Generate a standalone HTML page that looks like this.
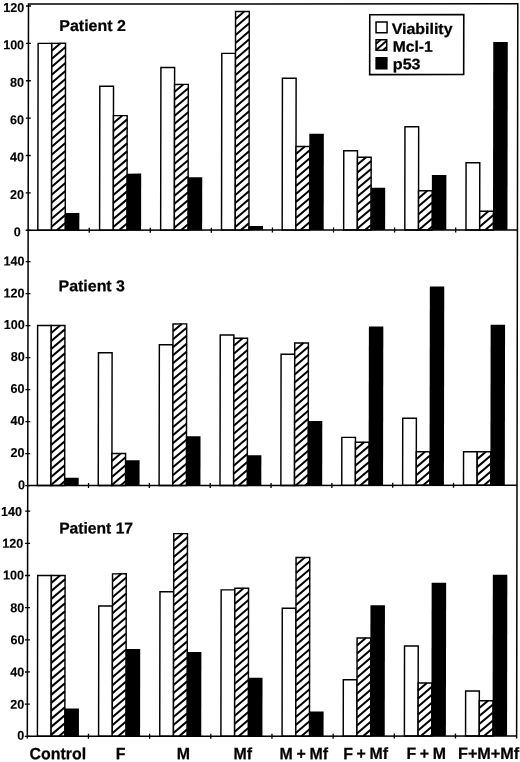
<!DOCTYPE html>
<html lang="en"><head><meta charset="utf-8"><title>Figure</title>
<style>html,body{margin:0;padding:0;background:#fff}svg{display:block}text{font-family:"Liberation Sans",sans-serif;font-weight:bold;fill:#000}</style>
</head><body>
<svg width="520" height="762" viewBox="0 0 520 762">
<rect width="520" height="762" fill="#fff"/>
<g transform="matrix(1,-0.0005,-0.0016,1,0.0,0.0)">
<rect x="38.20" y="43.38" width="13.70" height="186.87" fill="#fff" stroke="#000" stroke-width="1.45"/>
<rect x="51.90" y="43.38" width="13.70" height="186.87" fill="#fff" stroke="#000" stroke-width="1.45"/>
<path d="M51.90 50.78L60.61 43.38M51.90 58.78L65.60 47.13M51.90 66.78L65.60 55.13M51.90 74.78L65.60 63.13M51.90 82.78L65.60 71.14M51.90 90.78L65.60 79.14M51.90 98.78L65.60 87.14M51.90 106.78L65.60 95.14M51.90 114.78L65.60 103.14M51.90 122.78L65.60 111.14M51.90 130.78L65.60 119.14M51.90 138.78L65.60 127.14M51.90 146.78L65.60 135.13M51.90 154.78L65.60 143.13M51.90 162.78L65.60 151.13M51.90 170.78L65.60 159.13M51.90 178.78L65.60 167.13M51.90 186.78L65.60 175.13M51.90 194.78L65.60 183.13M51.90 202.78L65.60 191.13M51.90 210.78L65.60 199.13M51.90 218.78L65.60 207.13M51.90 226.78L65.60 215.13M57.23 230.25L65.60 223.13" stroke="#000" stroke-width="2.0" fill="none"/>
<rect x="65.20" y="212.93" width="14.50" height="17.32" fill="#000"/>
<rect x="99.96" y="86.36" width="13.70" height="143.89" fill="#fff" stroke="#000" stroke-width="1.45"/>
<rect x="113.66" y="115.70" width="13.70" height="114.55" fill="#fff" stroke="#000" stroke-width="1.45"/>
<path d="M113.66 123.10L122.37 115.70M113.66 131.10L127.36 119.45M113.66 139.10L127.36 127.45M113.66 147.10L127.36 135.45M113.66 155.10L127.36 143.45M113.66 163.10L127.36 151.45M113.66 171.10L127.36 159.45M113.66 179.10L127.36 167.45M113.66 187.10L127.36 175.45M113.66 195.10L127.36 183.45M113.66 203.10L127.36 191.45M113.66 211.10L127.36 199.45M113.66 219.10L127.36 207.45M113.66 227.10L127.36 215.45M119.37 230.25L127.36 223.45" stroke="#000" stroke-width="2.0" fill="none"/>
<rect x="126.96" y="173.69" width="14.50" height="56.56" fill="#000"/>
<rect x="161.02" y="67.67" width="13.70" height="162.58" fill="#fff" stroke="#000" stroke-width="1.45"/>
<rect x="174.72" y="84.49" width="13.70" height="145.76" fill="#fff" stroke="#000" stroke-width="1.45"/>
<path d="M174.72 91.89L183.43 84.49M174.72 99.89L188.42 88.25M174.72 107.89L188.42 96.25M174.72 115.89L188.42 104.25M174.72 123.89L188.42 112.25M174.72 131.89L188.42 120.25M174.72 139.89L188.42 128.25M174.72 147.89L188.42 136.25M174.72 155.89L188.42 144.25M174.72 163.89L188.42 152.25M174.72 171.89L188.42 160.25M174.72 179.89L188.42 168.25M174.72 187.89L188.42 176.25M174.72 195.89L188.42 184.25M174.72 203.89L188.42 192.25M174.72 211.89L188.42 200.25M174.72 219.89L188.42 208.25M174.72 227.89L188.42 216.25M181.36 230.25L188.42 224.25" stroke="#000" stroke-width="2.0" fill="none"/>
<rect x="188.02" y="177.43" width="14.50" height="52.82" fill="#000"/>
<rect x="221.89" y="53.47" width="13.70" height="176.78" fill="#fff" stroke="#000" stroke-width="1.45"/>
<rect x="235.59" y="11.61" width="13.70" height="218.64" fill="#fff" stroke="#000" stroke-width="1.45"/>
<path d="M235.59 19.01L244.29 11.61M235.59 27.01L249.29 15.37M235.59 35.01L249.29 23.37M235.59 43.01L249.29 31.37M235.59 51.01L249.29 39.37M235.59 59.01L249.29 47.37M235.59 67.01L249.29 55.37M235.59 75.01L249.29 63.37M235.59 83.01L249.29 71.37M235.59 91.01L249.29 79.37M235.59 99.01L249.29 87.37M235.59 107.01L249.29 95.37M235.59 115.01L249.29 103.37M235.59 123.01L249.29 111.37M235.59 131.01L249.29 119.37M235.59 139.01L249.29 127.37M235.59 147.01L249.29 135.37M235.59 155.01L249.29 143.37M235.59 163.01L249.29 151.37M235.59 171.01L249.29 159.37M235.59 179.01L249.29 167.37M235.59 187.01L249.29 175.37M235.59 195.01L249.29 183.37M235.59 203.01L249.29 191.37M235.59 211.01L249.29 199.37M235.59 219.01L249.29 207.37M235.59 227.01L249.29 215.37M241.19 230.25L249.29 223.37" stroke="#000" stroke-width="2.0" fill="none"/>
<rect x="248.89" y="226.01" width="14.50" height="4.24" fill="#000"/>
<rect x="282.55" y="78.32" width="13.70" height="151.93" fill="#fff" stroke="#000" stroke-width="1.45"/>
<rect x="296.25" y="146.72" width="13.70" height="83.53" fill="#fff" stroke="#000" stroke-width="1.45"/>
<path d="M296.25 154.12L304.96 146.72M296.25 162.12L309.95 150.47M296.25 170.12L309.95 158.47M296.25 178.12L309.95 166.47M296.25 186.12L309.95 174.47M296.25 194.12L309.95 182.47M296.25 202.12L309.95 190.47M296.25 210.12L309.95 198.47M296.25 218.12L309.95 206.47M296.25 226.12L309.95 214.47M300.80 230.25L309.95 222.47" stroke="#000" stroke-width="2.0" fill="none"/>
<rect x="309.55" y="133.89" width="14.50" height="96.36" fill="#000"/>
<rect x="344.01" y="150.83" width="13.70" height="79.42" fill="#fff" stroke="#000" stroke-width="1.45"/>
<rect x="357.71" y="157.37" width="13.70" height="72.88" fill="#fff" stroke="#000" stroke-width="1.45"/>
<path d="M357.71 164.77L366.42 157.37M357.71 172.77L371.41 161.13M357.71 180.77L371.41 169.13M357.71 188.77L371.41 177.13M357.71 196.77L371.41 185.13M357.71 204.77L371.41 193.13M357.71 212.77L371.41 201.13M357.71 220.77L371.41 209.13M357.71 228.77L371.41 217.13M365.38 230.25L371.41 225.13" stroke="#000" stroke-width="2.0" fill="none"/>
<rect x="371.01" y="187.89" width="14.50" height="42.36" fill="#000"/>
<rect x="405.17" y="126.91" width="13.70" height="103.34" fill="#fff" stroke="#000" stroke-width="1.45"/>
<rect x="418.87" y="191.01" width="13.70" height="39.24" fill="#fff" stroke="#000" stroke-width="1.45"/>
<path d="M418.87 198.41L427.58 191.01M418.87 206.41L432.57 194.76M418.87 214.41L432.57 202.76M418.87 222.41L432.57 210.76M419.06 230.25L432.57 218.76M428.47 230.25L432.57 226.76" stroke="#000" stroke-width="2.0" fill="none"/>
<rect x="432.17" y="175.18" width="14.50" height="55.07" fill="#000"/>
<rect x="466.34" y="162.98" width="13.70" height="67.27" fill="#fff" stroke="#000" stroke-width="1.45"/>
<rect x="480.04" y="211.56" width="13.70" height="18.69" fill="#fff" stroke="#000" stroke-width="1.45"/>
<path d="M480.04 218.96L488.74 211.56M480.04 226.96L493.74 215.32M485.58 230.25L493.74 223.32" stroke="#000" stroke-width="2.0" fill="none"/>
<rect x="493.34" y="42.32" width="14.50" height="187.93" fill="#000"/>
<path d="M28.5 230.25H517.8" stroke="#000" stroke-width="1.5" fill="none"/>
<path d="M26.0 230.25H31.0" stroke="#000" stroke-width="1.3"/>
<text transform="translate(21.00,236.25) scale(0.975,1)" font-size="12.9" text-anchor="end" stroke="#000" stroke-width="0.12">0</text>
<path d="M26.0 192.88H31.0" stroke="#000" stroke-width="1.3"/>
<text transform="translate(24.20,198.98) scale(0.975,1)" font-size="12.9" text-anchor="end" stroke="#000" stroke-width="0.12">20</text>
<path d="M26.0 155.50H31.0" stroke="#000" stroke-width="1.3"/>
<text transform="translate(24.20,161.60) scale(0.975,1)" font-size="12.9" text-anchor="end" stroke="#000" stroke-width="0.12">40</text>
<path d="M26.0 118.13H31.0" stroke="#000" stroke-width="1.3"/>
<text transform="translate(24.20,124.23) scale(0.975,1)" font-size="12.9" text-anchor="end" stroke="#000" stroke-width="0.12">60</text>
<path d="M26.0 80.75H31.0" stroke="#000" stroke-width="1.3"/>
<text transform="translate(24.20,86.85) scale(0.975,1)" font-size="12.9" text-anchor="end" stroke="#000" stroke-width="0.12">80</text>
<path d="M26.0 43.38H31.0" stroke="#000" stroke-width="1.3"/>
<text transform="translate(24.20,49.28) scale(0.975,1)" font-size="12.9" text-anchor="end" stroke="#000" stroke-width="0.12">100</text>
<path d="M26.0 6.01H31.0" stroke="#000" stroke-width="1.3"/>
<text transform="translate(24.20,12.01) scale(0.975,1)" font-size="12.9" text-anchor="end" stroke="#000" stroke-width="0.12">120</text>
<path d="M89.58 227.75V232.75" stroke="#000" stroke-width="1.3"/>
<path d="M150.65 227.75V232.75" stroke="#000" stroke-width="1.3"/>
<path d="M211.73 227.75V232.75" stroke="#000" stroke-width="1.3"/>
<path d="M272.81 227.75V232.75" stroke="#000" stroke-width="1.3"/>
<path d="M333.88 227.75V232.75" stroke="#000" stroke-width="1.3"/>
<path d="M394.96 227.75V232.75" stroke="#000" stroke-width="1.3"/>
<path d="M456.04 227.75V232.75" stroke="#000" stroke-width="1.3"/>
<text transform="translate(59.40,31.00) scale(1.01,1)" font-size="15.8" text-anchor="start" stroke="#000" stroke-width="0.25">Patient 2</text>
<rect x="38.15" y="325.59" width="13.64" height="159.96" fill="#fff" stroke="#000" stroke-width="1.45"/>
<rect x="51.79" y="325.59" width="13.64" height="159.96" fill="#fff" stroke="#000" stroke-width="1.45"/>
<path d="M51.79 332.99L60.50 325.59M51.79 340.99L65.43 329.40M51.79 348.99L65.43 337.40M51.79 356.99L65.43 345.40M51.79 364.99L65.43 353.40M51.79 372.99L65.43 361.40M51.79 380.99L65.43 369.40M51.79 388.99L65.43 377.40M51.79 396.99L65.43 385.40M51.79 404.99L65.43 393.40M51.79 412.99L65.43 401.40M51.79 420.99L65.43 409.40M51.79 428.99L65.43 417.40M51.79 436.99L65.43 425.40M51.79 444.99L65.43 433.40M51.79 452.99L65.43 441.40M51.79 460.99L65.43 449.40M51.79 468.99L65.43 457.40M51.79 476.99L65.43 465.40M51.79 484.99L65.43 473.40M60.54 485.55L65.43 481.40" stroke="#000" stroke-width="2.0" fill="none"/>
<rect x="65.03" y="477.85" width="14.44" height="7.70" fill="#000"/>
<rect x="99.03" y="352.78" width="13.64" height="132.77" fill="#fff" stroke="#000" stroke-width="1.45"/>
<rect x="112.67" y="453.56" width="13.64" height="31.99" fill="#fff" stroke="#000" stroke-width="1.45"/>
<path d="M112.67 460.96L121.37 453.56M112.67 468.96L126.30 457.37M112.67 476.96L126.30 465.37M112.67 484.96L126.30 473.37M121.38 485.55L126.30 481.37" stroke="#000" stroke-width="2.0" fill="none"/>
<rect x="125.90" y="460.26" width="14.44" height="25.29" fill="#000"/>
<rect x="159.90" y="344.78" width="13.64" height="140.77" fill="#fff" stroke="#000" stroke-width="1.45"/>
<rect x="173.54" y="323.99" width="13.64" height="161.56" fill="#fff" stroke="#000" stroke-width="1.45"/>
<path d="M173.54 331.39L182.25 323.99M173.54 339.39L187.18 327.80M173.54 347.39L187.18 335.80M173.54 355.39L187.18 343.80M173.54 363.39L187.18 351.80M173.54 371.39L187.18 359.80M173.54 379.39L187.18 367.80M173.54 387.39L187.18 375.80M173.54 395.39L187.18 383.80M173.54 403.39L187.18 391.80M173.54 411.39L187.18 399.80M173.54 419.39L187.18 407.80M173.54 427.39L187.18 415.80M173.54 435.39L187.18 423.80M173.54 443.39L187.18 431.80M173.54 451.39L187.18 439.80M173.54 459.39L187.18 447.80M173.54 467.39L187.18 455.80M173.54 475.39L187.18 463.80M173.54 483.39L187.18 471.80M180.41 485.55L187.18 479.80" stroke="#000" stroke-width="2.0" fill="none"/>
<rect x="186.78" y="436.26" width="14.44" height="49.29" fill="#000"/>
<rect x="220.78" y="335.18" width="13.64" height="150.37" fill="#fff" stroke="#000" stroke-width="1.45"/>
<rect x="234.42" y="338.38" width="13.64" height="147.17" fill="#fff" stroke="#000" stroke-width="1.45"/>
<path d="M234.42 345.78L243.12 338.38M234.42 353.78L248.05 342.19M234.42 361.78L248.05 350.19M234.42 369.78L248.05 358.19M234.42 377.78L248.05 366.19M234.42 385.78L248.05 374.19M234.42 393.78L248.05 382.19M234.42 401.78L248.05 390.19M234.42 409.78L248.05 398.19M234.42 417.78L248.05 406.19M234.42 425.78L248.05 414.19M234.42 433.78L248.05 422.19M234.42 441.78L248.05 430.19M234.42 449.78L248.05 438.19M234.42 457.78L248.05 446.19M234.42 465.78L248.05 454.19M234.42 473.78L248.05 462.19M234.42 481.78L248.05 470.19M239.39 485.55L248.05 478.19" stroke="#000" stroke-width="2.0" fill="none"/>
<rect x="247.65" y="455.30" width="14.44" height="30.25" fill="#000"/>
<rect x="281.65" y="354.38" width="13.64" height="131.17" fill="#fff" stroke="#000" stroke-width="1.45"/>
<rect x="295.29" y="343.18" width="13.64" height="142.37" fill="#fff" stroke="#000" stroke-width="1.45"/>
<path d="M295.29 350.58L304.00 343.18M295.29 358.58L308.93 346.99M295.29 366.58L308.93 354.99M295.29 374.58L308.93 362.99M295.29 382.58L308.93 370.99M295.29 390.58L308.93 378.99M295.29 398.58L308.93 386.99M295.29 406.58L308.93 394.99M295.29 414.58L308.93 402.99M295.29 422.58L308.93 410.99M295.29 430.58L308.93 418.99M295.29 438.58L308.93 426.99M295.29 446.58L308.93 434.99M295.29 454.58L308.93 442.99M295.29 462.58L308.93 450.99M295.29 470.58L308.93 458.99M295.29 478.58L308.93 466.99M296.50 485.55L308.93 474.99M305.92 485.55L308.93 482.99" stroke="#000" stroke-width="2.0" fill="none"/>
<rect x="308.53" y="421.06" width="14.44" height="64.49" fill="#000"/>
<rect x="342.53" y="437.56" width="13.64" height="47.99" fill="#fff" stroke="#000" stroke-width="1.45"/>
<rect x="356.17" y="442.36" width="13.64" height="43.19" fill="#fff" stroke="#000" stroke-width="1.45"/>
<path d="M356.17 449.76L364.87 442.36M356.17 457.76L369.80 446.17M356.17 465.76L369.80 454.17M356.17 473.76L369.80 462.17M356.17 481.76L369.80 470.17M361.12 485.55L369.80 478.17" stroke="#000" stroke-width="2.0" fill="none"/>
<rect x="369.40" y="326.69" width="14.44" height="158.86" fill="#000"/>
<rect x="403.40" y="418.37" width="13.64" height="67.19" fill="#fff" stroke="#000" stroke-width="1.45"/>
<rect x="417.04" y="451.96" width="13.64" height="33.59" fill="#fff" stroke="#000" stroke-width="1.45"/>
<path d="M417.04 459.36L425.75 451.96M417.04 467.36L430.68 455.77M417.04 475.36L430.68 463.77M417.04 483.36L430.68 471.77M423.87 485.55L430.68 479.77" stroke="#000" stroke-width="2.0" fill="none"/>
<rect x="430.28" y="286.69" width="14.44" height="198.86" fill="#000"/>
<rect x="464.28" y="451.96" width="13.64" height="33.59" fill="#fff" stroke="#000" stroke-width="1.45"/>
<rect x="477.92" y="451.96" width="13.64" height="33.59" fill="#fff" stroke="#000" stroke-width="1.45"/>
<path d="M477.92 459.36L486.62 451.96M477.92 467.36L491.55 455.77M477.92 475.36L491.55 463.77M477.92 483.36L491.55 471.77M484.75 485.55L491.55 479.77" stroke="#000" stroke-width="2.0" fill="none"/>
<rect x="491.15" y="325.09" width="14.44" height="160.46" fill="#000"/>
<path d="M28.5 485.55H517.8" stroke="#000" stroke-width="1.5" fill="none"/>
<path d="M26.0 485.55H31.0" stroke="#000" stroke-width="1.3"/>
<text transform="translate(25.70,489.25) scale(0.975,1)" font-size="12.9" text-anchor="end" stroke="#000" stroke-width="0.12">0</text>
<path d="M26.0 453.56H31.0" stroke="#000" stroke-width="1.3"/>
<text transform="translate(25.20,456.96) scale(0.975,1)" font-size="12.9" text-anchor="end" stroke="#000" stroke-width="0.12">20</text>
<path d="M26.0 421.56H31.0" stroke="#000" stroke-width="1.3"/>
<text transform="translate(25.20,424.96) scale(0.975,1)" font-size="12.9" text-anchor="end" stroke="#000" stroke-width="0.12">40</text>
<path d="M26.0 389.57H31.0" stroke="#000" stroke-width="1.3"/>
<text transform="translate(25.20,392.97) scale(0.975,1)" font-size="12.9" text-anchor="end" stroke="#000" stroke-width="0.12">60</text>
<path d="M26.0 357.58H31.0" stroke="#000" stroke-width="1.3"/>
<text transform="translate(25.20,360.98) scale(0.975,1)" font-size="12.9" text-anchor="end" stroke="#000" stroke-width="0.12">80</text>
<path d="M26.0 325.59H31.0" stroke="#000" stroke-width="1.3"/>
<text transform="translate(25.20,328.99) scale(0.975,1)" font-size="12.9" text-anchor="end" stroke="#000" stroke-width="0.12">100</text>
<path d="M26.0 293.59H31.0" stroke="#000" stroke-width="1.3"/>
<text transform="translate(25.00,297.39) scale(0.975,1)" font-size="12.9" text-anchor="end" stroke="#000" stroke-width="0.12">120</text>
<path d="M26.0 261.60H31.0" stroke="#000" stroke-width="1.3"/>
<text transform="translate(25.00,265.40) scale(0.975,1)" font-size="12.9" text-anchor="end" stroke="#000" stroke-width="0.12">140</text>
<path d="M89.33 483.05V488.05" stroke="#000" stroke-width="1.3"/>
<path d="M150.16 483.05V488.05" stroke="#000" stroke-width="1.3"/>
<path d="M211.00 483.05V488.05" stroke="#000" stroke-width="1.3"/>
<path d="M271.83 483.05V488.05" stroke="#000" stroke-width="1.3"/>
<path d="M332.66 483.05V488.05" stroke="#000" stroke-width="1.3"/>
<path d="M393.49 483.05V488.05" stroke="#000" stroke-width="1.3"/>
<path d="M454.33 483.05V488.05" stroke="#000" stroke-width="1.3"/>
<text transform="translate(59.00,291.20) scale(1.01,1)" font-size="15.8" text-anchor="start" stroke="#000" stroke-width="0.25">Patient 3</text>
<rect x="38.60" y="575.51" width="13.70" height="160.79" fill="#fff" stroke="#000" stroke-width="1.45"/>
<rect x="52.30" y="575.51" width="13.70" height="160.79" fill="#fff" stroke="#000" stroke-width="1.45"/>
<path d="M52.30 582.91L61.01 575.51M52.30 590.91L66.00 579.27M52.30 598.91L66.00 587.27M52.30 606.91L66.00 595.27M52.30 614.91L66.00 603.27M52.30 622.91L66.00 611.27M52.30 630.91L66.00 619.27M52.30 638.91L66.00 627.27M52.30 646.91L66.00 635.27M52.30 654.91L66.00 643.27M52.30 662.91L66.00 651.27M52.30 670.91L66.00 659.27M52.30 678.91L66.00 667.27M52.30 686.91L66.00 675.27M52.30 694.91L66.00 683.27M52.30 702.91L66.00 691.27M52.30 710.91L66.00 699.27M52.30 718.91L66.00 707.27M52.30 726.91L66.00 715.27M52.30 734.91L66.00 723.27M60.08 736.30L66.00 731.27" stroke="#000" stroke-width="2.0" fill="none"/>
<rect x="65.60" y="708.47" width="14.50" height="27.83" fill="#000"/>
<rect x="99.76" y="606.06" width="13.70" height="130.24" fill="#fff" stroke="#000" stroke-width="1.45"/>
<rect x="113.46" y="573.91" width="13.70" height="162.39" fill="#fff" stroke="#000" stroke-width="1.45"/>
<path d="M113.46 581.31L122.17 573.91M113.46 589.31L127.16 577.66M113.46 597.31L127.16 585.66M113.46 605.31L127.16 593.66M113.46 613.31L127.16 601.66M113.46 621.31L127.16 609.66M113.46 629.31L127.16 617.66M113.46 637.31L127.16 625.66M113.46 645.31L127.16 633.66M113.46 653.31L127.16 641.66M113.46 661.31L127.16 649.66M113.46 669.31L127.16 657.66M113.46 677.31L127.16 665.66M113.46 685.31L127.16 673.66M113.46 693.31L127.16 681.66M113.46 701.31L127.16 689.66M113.46 709.31L127.16 697.66M113.46 717.31L127.16 705.66M113.46 725.31L127.16 713.66M113.46 733.31L127.16 721.66M119.35 736.30L127.16 729.66" stroke="#000" stroke-width="2.0" fill="none"/>
<rect x="126.76" y="648.98" width="14.50" height="87.32" fill="#000"/>
<rect x="160.92" y="591.75" width="13.70" height="144.55" fill="#fff" stroke="#000" stroke-width="1.45"/>
<rect x="174.62" y="533.71" width="13.70" height="202.59" fill="#fff" stroke="#000" stroke-width="1.45"/>
<path d="M174.62 541.11L183.33 533.71M174.62 549.11L188.32 537.47M174.62 557.11L188.32 545.47M174.62 565.11L188.32 553.47M174.62 573.11L188.32 561.47M174.62 581.11L188.32 569.47M174.62 589.11L188.32 577.47M174.62 597.11L188.32 585.47M174.62 605.11L188.32 593.47M174.62 613.11L188.32 601.47M174.62 621.11L188.32 609.47M174.62 629.11L188.32 617.47M174.62 637.11L188.32 625.47M174.62 645.11L188.32 633.47M174.62 653.11L188.32 641.47M174.62 661.11L188.32 649.47M174.62 669.11L188.32 657.47M174.62 677.11L188.32 665.47M174.62 685.11L188.32 673.47M174.62 693.11L188.32 681.47M174.62 701.11L188.32 689.47M174.62 709.11L188.32 697.47M174.62 717.11L188.32 705.47M174.62 725.11L188.32 713.47M174.62 733.11L188.32 721.47M180.28 736.30L188.32 729.47" stroke="#000" stroke-width="2.0" fill="none"/>
<rect x="187.92" y="652.19" width="14.50" height="84.11" fill="#000"/>
<rect x="222.09" y="589.99" width="13.70" height="146.31" fill="#fff" stroke="#000" stroke-width="1.45"/>
<rect x="235.79" y="588.38" width="13.70" height="147.92" fill="#fff" stroke="#000" stroke-width="1.45"/>
<path d="M235.79 595.78L244.49 588.38M235.79 603.78L249.49 592.13M235.79 611.78L249.49 600.13M235.79 619.78L249.49 608.13M235.79 627.78L249.49 616.13M235.79 635.78L249.49 624.13M235.79 643.78L249.49 632.13M235.79 651.78L249.49 640.13M235.79 659.78L249.49 648.13M235.79 667.78L249.49 656.13M235.79 675.78L249.49 664.13M235.79 683.78L249.49 672.13M235.79 691.78L249.49 680.13M235.79 699.78L249.49 688.13M235.79 707.78L249.49 696.13M235.79 715.78L249.49 704.13M235.79 723.78L249.49 712.13M235.79 731.78L249.49 720.13M239.88 736.30L249.49 728.13M249.29 736.30L249.49 736.13" stroke="#000" stroke-width="2.0" fill="none"/>
<rect x="249.09" y="677.92" width="14.50" height="58.38" fill="#000"/>
<rect x="283.25" y="608.48" width="13.70" height="127.82" fill="#fff" stroke="#000" stroke-width="1.45"/>
<rect x="296.95" y="557.67" width="13.70" height="178.63" fill="#fff" stroke="#000" stroke-width="1.45"/>
<path d="M296.95 565.07L305.66 557.67M296.95 573.07L310.65 561.42M296.95 581.07L310.65 569.42M296.95 589.07L310.65 577.42M296.95 597.07L310.65 585.42M296.95 605.07L310.65 593.42M296.95 613.07L310.65 601.42M296.95 621.07L310.65 609.42M296.95 629.07L310.65 617.42M296.95 637.07L310.65 625.42M296.95 645.07L310.65 633.42M296.95 653.07L310.65 641.42M296.95 661.07L310.65 649.42M296.95 669.07L310.65 657.42M296.95 677.07L310.65 665.42M296.95 685.07L310.65 673.42M296.95 693.07L310.65 681.42M296.95 701.07L310.65 689.42M296.95 709.07L310.65 697.42M296.95 717.07L310.65 705.42M296.95 725.07L310.65 713.42M296.95 733.07L310.65 721.42M302.56 736.30L310.65 729.42" stroke="#000" stroke-width="2.0" fill="none"/>
<rect x="310.25" y="711.68" width="14.50" height="24.62" fill="#000"/>
<rect x="344.41" y="680.02" width="13.70" height="56.27" fill="#fff" stroke="#000" stroke-width="1.45"/>
<rect x="358.11" y="638.22" width="13.70" height="98.08" fill="#fff" stroke="#000" stroke-width="1.45"/>
<path d="M358.11 645.62L366.82 638.22M358.11 653.62L371.81 641.98M358.11 661.62L371.81 649.98M358.11 669.62L371.81 657.98M358.11 677.62L371.81 665.98M358.11 685.62L371.81 673.98M358.11 693.62L371.81 681.98M358.11 701.62L371.81 689.98M358.11 709.62L371.81 697.98M358.11 717.62L371.81 705.98M358.11 725.62L371.81 713.98M358.11 733.62L371.81 721.98M364.37 736.30L371.81 729.98" stroke="#000" stroke-width="2.0" fill="none"/>
<rect x="371.41" y="605.56" width="14.50" height="130.74" fill="#000"/>
<rect x="405.57" y="646.26" width="13.70" height="90.04" fill="#fff" stroke="#000" stroke-width="1.45"/>
<rect x="419.27" y="683.24" width="13.70" height="53.06" fill="#fff" stroke="#000" stroke-width="1.45"/>
<path d="M419.27 690.64L427.98 683.24M419.27 698.64L432.97 687.00M419.27 706.64L432.97 695.00M419.27 714.64L432.97 703.00M419.27 722.64L432.97 711.00M419.27 730.64L432.97 719.00M422.03 736.30L432.97 727.00M431.44 736.30L432.97 735.00" stroke="#000" stroke-width="2.0" fill="none"/>
<rect x="432.57" y="583.05" width="14.50" height="153.25" fill="#000"/>
<rect x="466.74" y="691.28" width="13.70" height="45.02" fill="#fff" stroke="#000" stroke-width="1.45"/>
<rect x="480.44" y="700.93" width="13.70" height="35.37" fill="#fff" stroke="#000" stroke-width="1.45"/>
<path d="M480.44 708.33L489.14 700.93M480.44 716.33L494.14 704.68M480.44 724.33L494.14 712.68M480.44 732.33L494.14 720.68M485.18 736.30L494.14 728.68" stroke="#000" stroke-width="2.0" fill="none"/>
<rect x="493.74" y="575.01" width="14.50" height="161.29" fill="#000"/>
<path d="M28.5 736.3H517.8" stroke="#000" stroke-width="1.5" fill="none"/>
<path d="M26.0 736.30H31.0" stroke="#000" stroke-width="1.3"/>
<text transform="translate(25.30,739.80) scale(0.975,1)" font-size="12.9" text-anchor="end" stroke="#000" stroke-width="0.12">0</text>
<path d="M26.0 704.14H31.0" stroke="#000" stroke-width="1.3"/>
<text transform="translate(25.40,708.64) scale(0.975,1)" font-size="12.9" text-anchor="end" stroke="#000" stroke-width="0.12">20</text>
<path d="M26.0 671.99H31.0" stroke="#000" stroke-width="1.3"/>
<text transform="translate(25.40,676.49) scale(0.975,1)" font-size="12.9" text-anchor="end" stroke="#000" stroke-width="0.12">40</text>
<path d="M26.0 639.83H31.0" stroke="#000" stroke-width="1.3"/>
<text transform="translate(25.40,644.33) scale(0.975,1)" font-size="12.9" text-anchor="end" stroke="#000" stroke-width="0.12">60</text>
<path d="M26.0 607.67H31.0" stroke="#000" stroke-width="1.3"/>
<text transform="translate(25.30,612.27) scale(0.975,1)" font-size="12.9" text-anchor="end" stroke="#000" stroke-width="0.12">80</text>
<path d="M26.0 575.51H31.0" stroke="#000" stroke-width="1.3"/>
<text transform="translate(24.80,579.51) scale(0.975,1)" font-size="12.9" text-anchor="end" stroke="#000" stroke-width="0.12">100</text>
<path d="M26.0 543.36H31.0" stroke="#000" stroke-width="1.3"/>
<text transform="translate(24.00,547.76) scale(0.975,1)" font-size="12.9" text-anchor="end" stroke="#000" stroke-width="0.12">120</text>
<path d="M26.0 511.20H31.0" stroke="#000" stroke-width="1.3"/>
<text transform="translate(22.80,516.00) scale(0.975,1)" font-size="12.9" text-anchor="end" stroke="#000" stroke-width="0.12">140</text>
<path d="M89.66 733.8V738.8" stroke="#000" stroke-width="1.3"/>
<path d="M150.82 733.8V738.8" stroke="#000" stroke-width="1.3"/>
<path d="M211.99 733.8V738.8" stroke="#000" stroke-width="1.3"/>
<path d="M273.15 733.8V738.8" stroke="#000" stroke-width="1.3"/>
<path d="M334.31 733.8V738.8" stroke="#000" stroke-width="1.3"/>
<path d="M395.47 733.8V738.8" stroke="#000" stroke-width="1.3"/>
<path d="M456.64 733.8V738.8" stroke="#000" stroke-width="1.3"/>
<text transform="translate(60.00,533.50) scale(0.99,1)" font-size="15.8" text-anchor="start" stroke="#000" stroke-width="0.25">Patient 17</text>
<path d="M28.5 738.5V4.1L517.8 4.0V738.8" stroke="#000" stroke-width="1.5" fill="none"/>
<rect x="369.8" y="14.9" width="94.0" height="59.9" fill="#fff" stroke="#000" stroke-width="1.6"/>
<rect x="376.1" y="22.2" width="11.0" height="10.8" fill="#fff" stroke="#000" stroke-width="1.5"/>
<rect x="376.1" y="39.9" width="10.7" height="10.5" fill="#fff" stroke="#000" stroke-width="1.5"/>
<path d="M376.10 43.90L380.81 39.90M376.10 50.10L386.80 41.01M383.04 50.40L386.80 47.21" stroke="#000" stroke-width="1.9" fill="none"/>
<rect x="375.5" y="57.2" width="12.2" height="12.4" fill="#000"/>
<text transform="translate(391.70,34.20) scale(1.05,1)" font-size="15.2" text-anchor="start" stroke="#000" stroke-width="0.25">Viability</text>
<text transform="translate(392.80,52.00) scale(1.03,1)" font-size="15.2" text-anchor="start" stroke="#000" stroke-width="0.25">Mcl-1</text>
<text transform="translate(392.90,69.40) scale(1.06,1)" font-size="15.2" text-anchor="start" stroke="#000" stroke-width="0.25">p53</text>
<text transform="translate(59.08,759.30) scale(0.97,1)" font-size="16.4" text-anchor="middle" stroke="#000" stroke-width="0.25">Control</text>
<text transform="translate(121.74,759.30) scale(0.97,1)" font-size="16.4" text-anchor="middle" stroke="#000" stroke-width="0.25">F</text>
<text transform="translate(184.61,759.30) scale(0.97,1)" font-size="16.4" text-anchor="middle" stroke="#000" stroke-width="0.25">M</text>
<text transform="translate(243.97,759.30) scale(0.97,1)" font-size="16.4" text-anchor="middle" stroke="#000" stroke-width="0.25">Mf</text>
<text transform="translate(304.98,759.30) scale(0.97,1)" font-size="16.4" text-anchor="middle" stroke="#000" stroke-width="0.25" word-spacing="-0.8">M + Mf</text>
<text transform="translate(366.79,759.30) scale(0.97,1)" font-size="16.4" text-anchor="middle" stroke="#000" stroke-width="0.25" word-spacing="-0.8">F + Mf</text>
<text transform="translate(427.46,759.30) scale(0.97,1)" font-size="16.4" text-anchor="middle" stroke="#000" stroke-width="0.25" word-spacing="-0.8">F + M</text>
<text transform="translate(489.82,759.30) scale(0.99,1)" font-size="16.4" text-anchor="middle" stroke="#000" stroke-width="0.25">F+M+Mf</text>
</g>
</svg>
</body></html>
